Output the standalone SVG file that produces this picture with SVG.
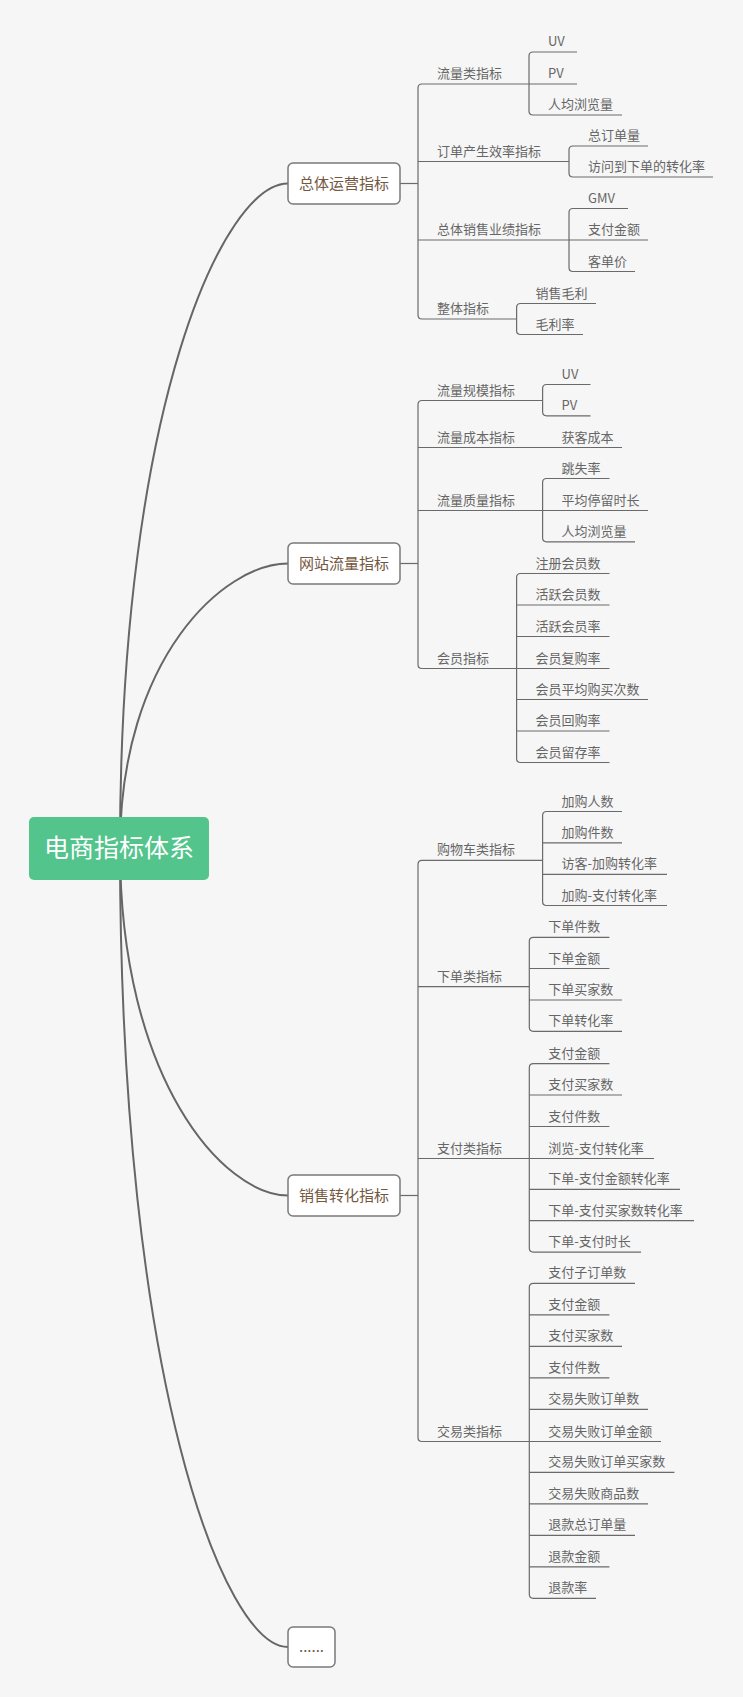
<svg xmlns="http://www.w3.org/2000/svg" width="743" height="1697" viewBox="0 0 743 1697">
<style>
.bg{fill:#F6F6F6}
.curve{fill:none;stroke:#666;stroke-width:2}
.ln{fill:none;stroke:#6a6a6a;stroke-width:1.2}
.box{fill:#fff;stroke:#7a7a7a;stroke-width:1.5}
.t1{font-family:"Noto Sans CJK SC","Microsoft YaHei",sans-serif;font-size:15px;fill:#74583F;text-anchor:middle}
.t{font-family:"Noto Sans CJK SC","Microsoft YaHei",sans-serif;font-size:13px;fill:#666}
.root{font-family:"Noto Sans CJK SC","Microsoft YaHei",sans-serif;font-size:25px;fill:#fff;text-anchor:middle}
</style>
<rect class="bg" x="0" y="0" width="743" height="1697"/>
<g id="connectors">
<path class="curve" d="M120 848 C120 405 224 183.5 288 183.5"/>
<path class="curve" d="M120 848 C120 658 224 563.5 288 563.5"/>
<path class="curve" d="M120 848 C120 1080 224 1195.5 288 1195.5"/>
<path class="curve" d="M120 848 C120 1380 224 1647 288 1647"/>
<!-- node 1 -->
<path class="ln" d="M400 183.5 H418"/>
<path class="ln" d="M418 88 Q418 84 422 84 H529 M418 88 V315 Q418 319 422 319 H516.6 M418 161.5 H569 M418 240 H569"/>
<path class="ln" d="M529 56 Q529 52 533 52 H577 M529 56 V111 Q529 115 533 115 H622 M529 84 H577"/>
<path class="ln" d="M569 150 Q569 146 573 146 H648 M569 150 V173 Q569 177 573 177 H713"/>
<path class="ln" d="M569 212.5 Q569 208.5 573 208.5 H628 M569 212.5 V267.5 Q569 271.5 573 271.5 H635 M569 240 H648"/>
<path class="ln" d="M516.6 307.5 Q516.6 303.5 520.6 303.5 H596 M516.6 307.5 V330.5 Q516.6 334.5 520.6 334.5 H583"/>
<!-- node 2 -->
<path class="ln" d="M400 563.5 H418"/>
<path class="ln" d="M418 404.5 Q418 400.5 422 400.5 H542.6 M418 404.5 V664.5 Q418 668.5 422 668.5 H516.6 M418 447.5 H622 M418 510.5 H542.6"/>
<path class="ln" d="M542.6 388.5 Q542.6 384.5 546.6 384.5 H590.5 M542.6 388.5 V411.8 Q542.6 415.8 546.6 415.8 H590.5"/>
<path class="ln" d="M542.6 482.5 Q542.6 478.5 546.6 478.5 H609.5 M542.6 482.5 V537.8 Q542.6 541.8 546.6 541.8 H635 M542.6 510.5 H648"/>
<path class="ln" d="M516.6 577.5 Q516.6 573.5 520.6 573.5 H609.5 M516.6 577.5 V758.5 Q516.6 762.5 520.6 762.5 H609.5 M516.6 605 H609.5 M516.6 636.5 H609.5 M516.6 668.5 H609.5 M516.6 699.5 H648 M516.6 731 H609.5"/>
<!-- node 3 -->
<path class="ln" d="M400 1195.5 H418"/>
<path class="ln" d="M418 864.3 Q418 860.3 422 860.3 H542.6 M418 864.3 V1437.5 Q418 1441.5 422 1441.5 H529.3 M418 986.7 H529.3 M418 1158.5 H529.3"/>
<path class="ln" d="M542.6 815.5 Q542.6 811.5 546.6 811.5 H622 M542.6 815.5 V901.5 Q542.6 905.5 546.6 905.5 H667 M542.6 842.8 H622 M542.6 874.3 H667"/>
<path class="ln" d="M529.3 941.3 Q529.3 937.3 533.3 937.3 H609.4 M529.3 941.3 V1027.3 Q529.3 1031.3 533.3 1031.3 H622 M529.3 968.5 H609.4 M529.3 1000 H622"/>
<path class="ln" d="M529.3 1067.7 Q529.3 1063.7 533.3 1063.7 H609.4 M529.3 1067.7 V1248.1 Q529.3 1252.1 533.3 1252.1 H641 M529.3 1095 H622 M529.3 1126.5 H609.4 M529.3 1158.5 H654 M529.3 1189.3 H680 M529.3 1220.7 H694"/>
<path class="ln" d="M529.3 1287.3 Q529.3 1283.3 533.3 1283.3 H635 M529.3 1287.3 V1594.3 Q529.3 1598.3 533.3 1598.3 H596 M529.3 1314.8 H609.4 M529.3 1346.3 H622 M529.3 1377.8 H609.4 M529.3 1409.3 H648 M529.3 1441.5 H661 M529.3 1472.3 H674.4 M529.3 1503.8 H648 M529.3 1535.3 H635 M529.3 1566.8 H609.4"/>
</g>
<g id="root">
<rect x="29" y="817" width="180" height="63" rx="5" fill="#52C48C"/>
<text class="root" x="119" y="857">电商指标体系</text>
</g>
<g id="n1">
<rect class="box" x="288" y="163" width="112" height="41" rx="5"/>
<text class="t1" x="344" y="188.5">总体运营指标</text>
</g>
<g id="n2">
<rect class="box" x="288" y="543" width="112" height="41" rx="5"/>
<text class="t1" x="344" y="568.5">网站流量指标</text>
</g>
<g id="n3">
<rect class="box" x="288" y="1175" width="112" height="41" rx="5"/>
<text class="t1" x="344" y="1200.5">销售转化指标</text>
</g>
<g id="n4">
<rect class="box" x="288" y="1627" width="47" height="40" rx="5"/>
<text class="t1" x="311.5" y="1652">......</text>
</g>
<g id="n1-children">
<text class="t" x="437" y="78">流量类指标</text>
<text class="t" x="548" y="46">UV</text>
<text class="t" x="548" y="78">PV</text>
<text class="t" x="548" y="109">人均浏览量</text>
<text class="t" x="437" y="155.5">订单产生效率指标</text>
<text class="t" x="588" y="140">总订单量</text>
<text class="t" x="588" y="171">访问到下单的转化率</text>
<text class="t" x="437" y="234">总体销售业绩指标</text>
<text class="t" x="588" y="202.5">GMV</text>
<text class="t" x="588" y="234">支付金额</text>
<text class="t" x="588" y="265.5">客单价</text>
<text class="t" x="437" y="313">整体指标</text>
<text class="t" x="535.6" y="297.5">销售毛利</text>
<text class="t" x="535.6" y="328.5">毛利率</text>
</g>
<g id="n2-children">
<text class="t" x="437" y="394.5">流量规模指标</text>
<text class="t" x="561.6" y="378.5">UV</text>
<text class="t" x="561.6" y="409.8">PV</text>
<text class="t" x="437" y="441.5">流量成本指标</text>
<text class="t" x="561.6" y="441.5">获客成本</text>
<text class="t" x="437" y="504.5">流量质量指标</text>
<text class="t" x="561.6" y="472.5">跳失率</text>
<text class="t" x="561.6" y="504.5">平均停留时长</text>
<text class="t" x="561.6" y="535.8">人均浏览量</text>
<text class="t" x="437" y="662.5">会员指标</text>
<text class="t" x="535.6" y="567.5">注册会员数</text>
<text class="t" x="535.6" y="599">活跃会员数</text>
<text class="t" x="535.6" y="630.5">活跃会员率</text>
<text class="t" x="535.6" y="662.5">会员复购率</text>
<text class="t" x="535.6" y="693.5">会员平均购买次数</text>
<text class="t" x="535.6" y="725">会员回购率</text>
<text class="t" x="535.6" y="756.5">会员留存率</text>
</g>
<g id="n3-children">
<text class="t" x="437" y="854.3">购物车类指标</text>
<text class="t" x="561.6" y="805.5">加购人数</text>
<text class="t" x="561.6" y="836.8">加购件数</text>
<text class="t" x="561.6" y="868.3">访客-加购转化率</text>
<text class="t" x="561.6" y="899.5">加购-支付转化率</text>
<text class="t" x="437" y="980.7">下单类指标</text>
<text class="t" x="548.3" y="931.3">下单件数</text>
<text class="t" x="548.3" y="962.5">下单金额</text>
<text class="t" x="548.3" y="994">下单买家数</text>
<text class="t" x="548.3" y="1025.3">下单转化率</text>
<text class="t" x="437" y="1152.5">支付类指标</text>
<text class="t" x="548.3" y="1057.7">支付金额</text>
<text class="t" x="548.3" y="1089">支付买家数</text>
<text class="t" x="548.3" y="1120.5">支付件数</text>
<text class="t" x="548.3" y="1152.5">浏览-支付转化率</text>
<text class="t" x="548.3" y="1183.3">下单-支付金额转化率</text>
<text class="t" x="548.3" y="1214.7">下单-支付买家数转化率</text>
<text class="t" x="548.3" y="1246.1">下单-支付时长</text>
<text class="t" x="437" y="1435.5">交易类指标</text>
<text class="t" x="548.3" y="1277.3">支付子订单数</text>
<text class="t" x="548.3" y="1308.8">支付金额</text>
<text class="t" x="548.3" y="1340.3">支付买家数</text>
<text class="t" x="548.3" y="1371.8">支付件数</text>
<text class="t" x="548.3" y="1403.3">交易失败订单数</text>
<text class="t" x="548.3" y="1435.5">交易失败订单金额</text>
<text class="t" x="548.3" y="1466.3">交易失败订单买家数</text>
<text class="t" x="548.3" y="1497.8">交易失败商品数</text>
<text class="t" x="548.3" y="1529.3">退款总订单量</text>
<text class="t" x="548.3" y="1560.8">退款金额</text>
<text class="t" x="548.3" y="1592.3">退款率</text>
</g>
</svg>
